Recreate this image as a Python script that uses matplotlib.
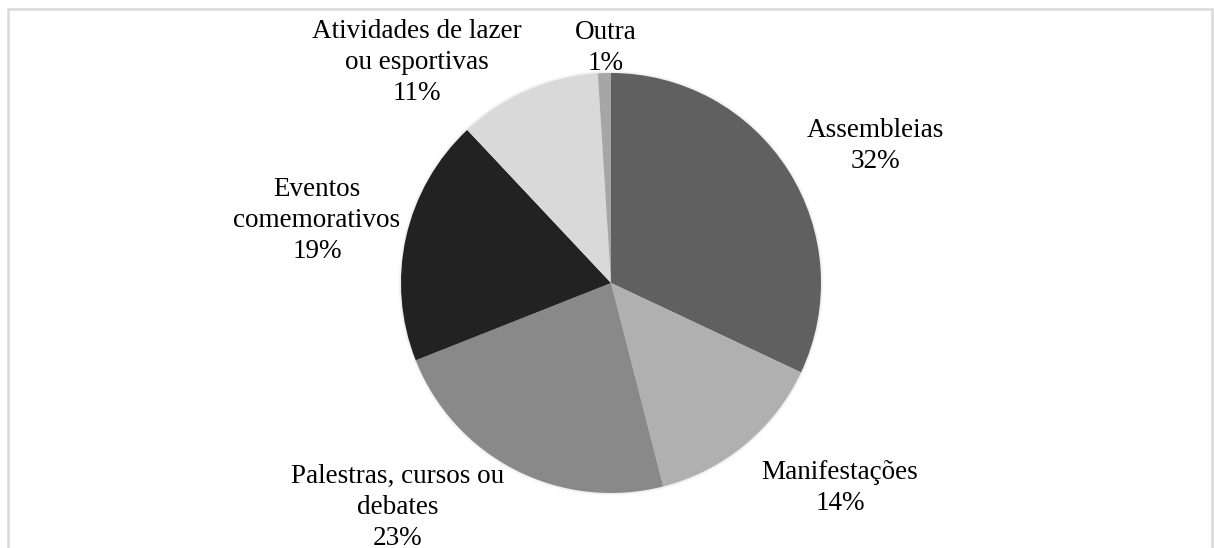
import matplotlib.pyplot as plt
from matplotlib.patches import Rectangle, Circle

# Share of activities (percent)
categories = ["Assembleias", "Manifestações", "Palestras, cursos ou\ndebates",
              "Eventos\ncomemorativos", "Atividades de lazer\nou esportivas", "Outra"]
shares = [32, 14, 23, 19, 11, 1]
colors = ["#606060", "#b0b0b0", "#898989", "#222222", "#d9d9d9", "#a6a6a6"]

W, H = 1214, 548
CX, CY, R = 611, 283, 210

# last-line baseline of each label, in pixels from top-left
label_px = [(875, 168), (840, 510), (398, 545), (317, 258), (417, 100), (606, 70)]

plt.rcParams["font.family"] = ["Liberation Serif", "DejaVu Serif"]

fig = plt.figure(figsize=(W / 100, H / 100), dpi=100)
ax = fig.add_axes([0, 0, 1, 1])

# faint shadow under the pie
for k in range(3):
    ax.add_patch(Circle((0, 0), 1 + 0.004 * (k + 1), color="#000000",
                        alpha=0.025, linewidth=0, zorder=0))

ax.pie(shares, colors=colors, startangle=90, counterclock=False,
       radius=1, center=(0, 0), frame=True,
       wedgeprops=dict(linewidth=0, zorder=2))
ax.set_xlim(-CX / R, (W - CX) / R)
ax.set_ylim((CY - H) / R, CY / R)
ax.set_aspect("auto")
ax.axis("off")

for name, val, (px, py) in zip(categories, shares, label_px):
    ax.text((px - CX) / R, (CY - py) / R, f"{name}\n{val}%",
            ha="center", va="baseline", multialignment="center",
            fontsize=19.5, linespacing=1.31, color="black")

# thin frame around the chart area
fig.patches.append(Rectangle((8 / W, -0.05), (1212 - 8) / W, 1.05 - 9 / H,
                             transform=fig.transFigure, fill=False,
                             edgecolor="#d9d9d9", linewidth=1.8))

fig.savefig("out.png", dpi=100)
